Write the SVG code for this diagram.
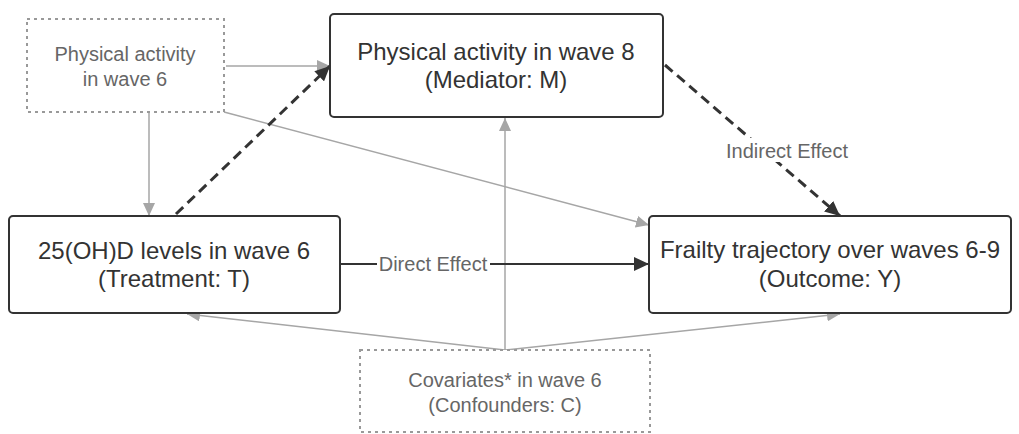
<svg xmlns="http://www.w3.org/2000/svg" width="1019" height="434" viewBox="0 0 1019 434">
<style>
.box{fill:#fff;stroke:#333;stroke-width:2}
.dbox{fill:#fff;stroke:#999;stroke-width:2;stroke-dasharray:3 4}
.t{font-family:"Liberation Sans",Arial,sans-serif;font-size:24px;fill:#333;text-anchor:middle}
.dt{font-family:"Liberation Sans",Arial,sans-serif;font-size:20px;fill:#666;text-anchor:middle}
.lbl{font-family:"Liberation Sans",Arial,sans-serif;font-size:20px;fill:#666;text-anchor:middle}
.g{fill:none;stroke:#a6a6a6;stroke-width:1.5}
.k{fill:none;stroke:#333;stroke-width:2}
.kd{fill:none;stroke:#333;stroke-width:3;stroke-dasharray:10 6}
</style>
<defs>
<marker id="ag" markerUnits="userSpaceOnUse" markerWidth="14" markerHeight="12" refX="13" refY="6" orient="auto"><path d="M0,0 L13,6 L0,12 z" fill="#a6a6a6"/></marker>
<marker id="ak" markerUnits="userSpaceOnUse" markerWidth="16" markerHeight="14" refX="15" refY="7" orient="auto"><path d="M0,0 L15,7 L0,14 z" fill="#333"/></marker>
</defs>
<rect width="1019" height="434" fill="#fff"/>
<g id="connectors">
<path class="g" d="M226,66 L330,66" marker-end="url(#ag)"/>
<path class="g" d="M149,113 L149,216" marker-end="url(#ag)"/>
<path class="g" d="M224,112 L649,225" marker-end="url(#ag)"/>
<path class="g" d="M505,350 L505,118" marker-end="url(#ag)"/>
<path class="g" d="M505,350 L187,314" marker-end="url(#ag)"/>
<path class="g" d="M505,350 L840,314" marker-end="url(#ag)"/>
<path class="kd" d="M176,214 L330,66" marker-end="url(#ak)"/>
<path class="kd" d="M665,65 L840,216" marker-end="url(#ak)"/>
<path class="k" d="M341,264 L649,264" marker-end="url(#ak)"/>
<rect x="377" y="253" width="113" height="22" fill="#fff"/>
<text class="lbl" x="433" y="271">Direct Effect</text>
<rect x="724" y="138" width="126" height="24" fill="#fff"/>
<text class="lbl" x="787" y="158">Indirect Effect</text>
</g>
<g id="pa6">
<rect class="dbox" x="27" y="19" width="197" height="93"/>
<text class="dt" x="125" y="61">Physical activity</text>
<text class="dt" x="125" y="86">in wave 6</text>
</g>
<g id="mediator">
<rect class="box" x="330" y="14" width="333" height="103" rx="4"/>
<text class="t" x="496" y="60">Physical activity in wave 8</text>
<text class="t" x="496" y="88">(Mediator: M)</text>
</g>
<g id="treatment">
<rect class="box" x="9" y="216" width="331" height="97" rx="4"/>
<text class="t" x="174" y="259">25(OH)D levels in wave 6</text>
<text class="t" x="174" y="287">(Treatment: T)</text>
</g>
<g id="outcome">
<rect class="box" x="649" y="216" width="362" height="97" rx="4"/>
<text class="t" x="830" y="258">Frailty trajectory over waves 6-9</text>
<text class="t" x="830" y="287">(Outcome: Y)</text>
</g>
<g id="covariates">
<rect class="dbox" x="360" y="350" width="290" height="82"/>
<text class="dt" x="505" y="387">Covariates* in wave 6</text>
<text class="dt" x="505" y="412">(Confounders: C)</text>
</g>
</svg>
